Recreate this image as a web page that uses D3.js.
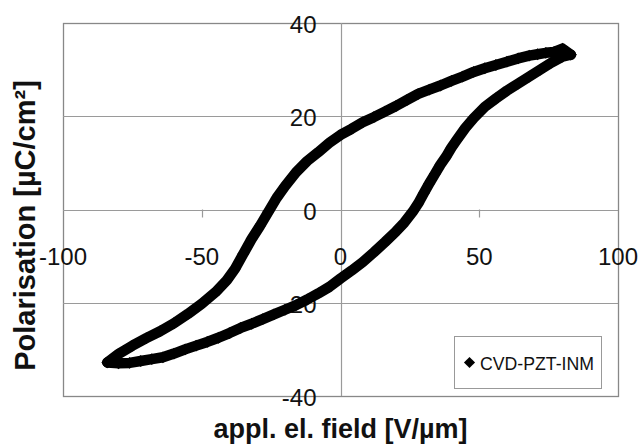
<!DOCTYPE html>
<html>
<head>
<meta charset="utf-8">
<script src="https://cdn.jsdelivr.net/npm/d3@7"></script>
<style>
  html, body { margin: 0; padding: 0; background: #fff; }
  svg { display: block; }
  text { font-family: "Liberation Sans", Arial, sans-serif; fill: #111; }
</style>
</head>
<body>
<svg id="chart" width="640" height="445"></svg>
<script>
// ---- Data ----
const seriesName = "CVD-PZT-INM";
// Upper branch (field decreasing from +max to -max)
const upperField = [83,80,77,74,71,68,64,60,56,52,48,44,40,36,32,28,24,20,16,12,8,4,0,-4,-8,-12,-16,-20,-23,-26,-29,-32,-35,-38,-41,-45,-50,-55,-60,-65,-70,-75,-80,-84];
const upperPol   = [33.2,34.5,33.8,33.6,33.3,33,32.4,31.7,31,30.3,29.5,28.5,27.6,26.6,25.7,24.8,23.5,22.2,21,19.8,18.7,17.3,16,14.3,12.3,10.4,8,5,2.5,-0.5,-3.5,-6.3,-9.5,-12.7,-15.2,-17.7,-20.2,-22.4,-24.4,-26.1,-27.6,-29.2,-31,-32.8];
// Lower branch (field increasing from -max to +max)
const lowerField = [-84,-80,-76,-72,-68,-64,-60,-56,-52,-48,-44,-40,-36,-32,-28,-24,-20,-16,-12,-8,-4,0,4,8,12,16,20,23,26,28,30,32,34,36,38,40,42,45,48,52,56,60,64,68,72,76,80,83];
const lowerPol   = [-32.8,-33,-32.9,-32.5,-32.1,-31.7,-30.9,-30,-29.2,-28.4,-27.5,-26.5,-25.4,-24.5,-23.5,-22.5,-21.5,-20.5,-19.3,-18,-16.6,-14.8,-13.1,-11.3,-9.2,-7,-4.7,-2.8,-0.5,1.3,3.5,5.6,7.6,9.6,11.3,13.3,15,17.5,19.6,22,23.8,25.5,27,28.5,30,31.5,32.8,33.2];

const xTicks = [-100, -50, 0, 50, 100];
const yTicks = [-40, -20, 0, 20, 40];
const xTitle = "appl. el. field [V/µm]";
const yTitle = "Polarisation [µC/cm²]";

// ---- Layout ----
const svg = d3.select("#chart");
const plot = { left: 63, right: 618, top: 23, bottom: 396 };
const x = d3.scaleLinear().domain([-100, 100]).range([plot.left, plot.right]);
const y = d3.scaleLinear().domain([-40, 40]).range([plot.bottom, plot.top]);

const gridColor = "#9a9a9a";

// plot area border
svg.append("rect")
  .attr("x", plot.left + 0.5).attr("y", plot.top + 0.5)
  .attr("width", plot.right - plot.left).attr("height", plot.bottom - plot.top)
  .attr("fill", "#fff").attr("stroke", "#888").attr("stroke-width", 1.3);

// horizontal gridlines
svg.append("g").selectAll("line")
  .data(yTicks.filter(v => v !== 40 && v !== -40))
  .join("line")
  .attr("x1", plot.left).attr("x2", plot.right)
  .attr("y1", d => Math.round(y(d)) + 0.5).attr("y2", d => Math.round(y(d)) + 0.5)
  .attr("stroke", gridColor).attr("stroke-width", 1.2);

// y axis (vertical line at x = 0)
svg.append("line")
  .attr("x1", Math.round(x(0)) + 0.5).attr("x2", Math.round(x(0)) + 0.5)
  .attr("y1", plot.top).attr("y2", plot.bottom)
  .attr("stroke", gridColor).attr("stroke-width", 1.2);

// x tick marks on the x axis (y = 0)
svg.append("g").selectAll("line")
  .data(xTicks.filter(v => v !== -100 && v !== 100 && v !== 0))
  .join("line")
  .attr("x1", d => Math.round(x(d)) + 0.5).attr("x2", d => Math.round(x(d)) + 0.5)
  .attr("y1", y(0)).attr("y2", y(0) + 8)
  .attr("stroke", gridColor).attr("stroke-width", 1.2);

// x tick labels
svg.append("g").selectAll("text")
  .data(xTicks)
  .join("text")
  .attr("x", d => x(d)).attr("y", y(0) + 55.5)
  .attr("text-anchor", "middle")
  .attr("font-size", 24)
  .text(d => d);

// y tick labels
svg.append("g").selectAll("text")
  .data(yTicks)
  .join("text")
  .attr("x", x(0) - 24).attr("y", d => y(d) + 10)
  .attr("text-anchor", "end")
  .attr("font-size", 24)
  .text(d => d);

// ---- Data marks ----
const upper = upperField.map((f, i) => [f, upperPol[i]]);
const lower = lowerField.map((f, i) => [f, lowerPol[i]]);
const lineGen = d3.line().x(d => x(d[0])).y(d => y(d[1]));
const dataG = svg.append("g");
[upper, lower].forEach(arr => {
  dataG.append("path")
    .attr("d", lineGen(arr))
    .attr("fill", "none").attr("stroke", "#000")
    .attr("stroke-width", 10.5).attr("stroke-linejoin", "round").attr("stroke-linecap", "round");
});
const diamond = d3.symbol().type(d3.symbolSquare).size(70);
dataG.selectAll("path.pt")
  .data(upper.concat(lower))
  .join("path")
  .attr("class", "pt")
  .attr("d", diamond)
  .attr("transform", d => `translate(${x(d[0])},${y(d[1])}) rotate(45)`)
  .attr("fill", "#000");

// ---- Legend ----
const legendDiamond = d3.symbol().type(d3.symbolSquare).size(62);
const lg = svg.append("g");
lg.append("rect")
  .attr("x", 454.5).attr("y", 336.5).attr("width", 147).attr("height", 52)
  .attr("fill", "#fff").attr("stroke", "#999").attr("stroke-width", 1);
lg.append("path")
  .attr("d", legendDiamond)
  .attr("transform", "translate(469.5,362.5) rotate(45)")
  .attr("fill", "#000");
lg.append("text")
  .attr("x", 480).attr("y", 370)
  .attr("font-size", 19)
  .attr("textLength", 114).attr("lengthAdjust", "spacingAndGlyphs")
  .text(seriesName);

// ---- Axis titles ----
svg.append("text")
  .attr("x", 340.5).attr("y", 438)
  .attr("text-anchor", "middle")
  .attr("font-size", 27).attr("font-weight", "bold")
  .text(xTitle);

svg.append("text")
  .attr("transform", "translate(35,225.5) rotate(-90)")
  .attr("text-anchor", "middle")
  .attr("font-size", 29).attr("font-weight", "bold")
  .text(yTitle);
</script>
</body>
</html>
